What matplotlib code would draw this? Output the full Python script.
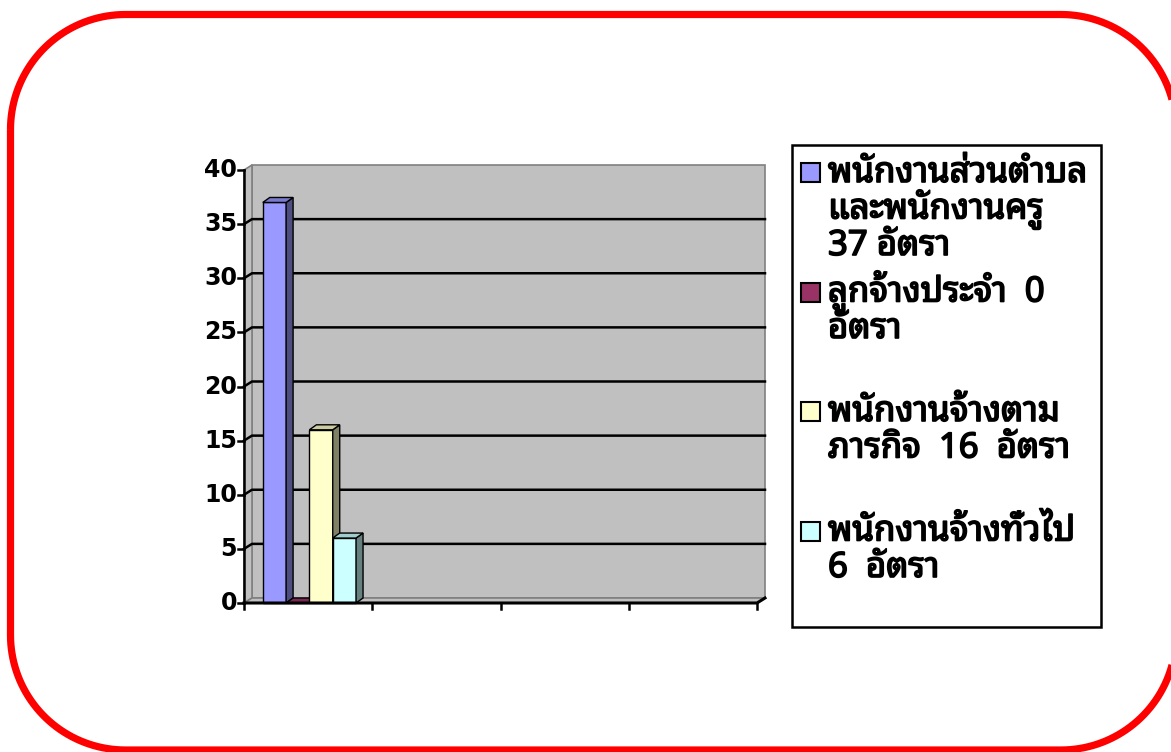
import matplotlib
matplotlib.use("Agg")
import numpy as np
import matplotlib.pyplot as plt
import matplotlib.patheffects as pe
from matplotlib.patches import Polygon, Rectangle
from matplotlib import font_manager

# data
categories = ["1", "2", "3", "4"]
series_names = [
    "พนักงานส่วนตำบล\nและพนักงานครู\n37 อัตรา",
    "ลูกจ้างประจำ  0\nอัตรา",
    "พนักงานจ้างตาม\nภารกิจ  16  อัตรา",
    "พนักงานจ้างทั่วไป\n6  อัตรา",
]
values = [37, 0, 16, 6]
front_colors = ["#9999FF", "#993366", "#FFFFCC", "#CCFFFF"]
side_colors = ["#4D4D80", "#4D1A33", "#808066", "#668080"]
top_colors = ["#7A7ACC", "#7A2952", "#CCCCA3", "#A3CCCC"]
yticks = [0, 5, 10, 15, 20, 25, 30, 35, 40]

installed = {f.name for f in font_manager.fontManager.ttflist}
thai_font = "Loma"
for pref in ["Noto Sans Thai Looped", "Loma"]:
    if pref in installed:
        thai_font = pref
        break
plt.rcParams["font.family"] = [thai_font, "Noto Sans", "DejaVu Sans"]

W, H = 1171, 752
fig = plt.figure(figsize=(W / 100, H / 100), dpi=100)

def px(x, y):
    return x / W, 1 - y / H

# red rounded frame, built in pixels
fl, ft, fr, fb, rad = 10.5, 14.5, 1176, 750, 115
pts = []
for cx, cy, a0 in [(fl + rad, ft + rad, 180), (fr - rad, ft + rad, 270),
                   (fr - rad, fb - rad, 0), (fl + rad, fb - rad, 90)]:
    a = np.radians(np.linspace(a0, a0 + 90, 40))
    pts += [px(cx + rad * np.cos(t), cy + rad * np.sin(t)) for t in a]
fig.patches.append(Polygon(pts, closed=True, transform=fig.transFigure, fill=False,
                           ec="#FF0000", lw=5.2, joinstyle="round"))

# plot area (front plane)
x0, x1, yb, yt = 244, 757, 603, 170
l, b = px(x0, yb)
r, t = px(x1, yt)
ax = fig.add_axes([l, b, r - l, t - b])
ncat = len(categories)
ymax = yticks[-1]
ax.set_xlim(0, ncat)
ax.set_ylim(0, ymax)
ax.axis("off")

# depth offsets in data units
cat_px = (x1 - x0) / ncat
val_px = (yb - yt) / ymax
dx = 8 / cat_px
dy = 5 / val_px
bdx = 7 / cat_px
bdy = 5 / val_px

wall_kw = dict(fc="#C0C0C0", ec="#808080", lw=1.2, clip_on=False)
ax.add_patch(Polygon([(dx, dy), (ncat + dx, dy), (ncat + dx, ymax + dy), (dx, ymax + dy)], **wall_kw))
ax.add_patch(Polygon([(0, 0), (dx, dy), (dx, ymax + dy), (0, ymax)], **wall_kw))
ax.add_patch(Polygon([(0, 0), (ncat, 0), (ncat + dx, dy), (dx, dy)], **wall_kw))

for v in yticks[1:-1]:
    ax.plot([0, dx, ncat + dx], [v, v + dy, v + dy], color="black", lw=1.8, clip_on=False)

# bars (first category only carries data)
nser = len(values)
bw = 1 / (nser + 1.5)
start = 0.75 * bw + 0.01
for i, v in enumerate(values):
    xl = start + i * bw
    xr = xl + bw
    ax.add_patch(Polygon([(xl, 0), (xr, 0), (xr, v), (xl, v)], fc=front_colors[i], ec="black", lw=1.0, clip_on=False, zorder=3))
    ax.add_patch(Polygon([(xr, 0), (xr + bdx, bdy), (xr + bdx, v + bdy), (xr, v)], fc=side_colors[i], ec="black", lw=1.0, clip_on=False, zorder=3))
    ax.add_patch(Polygon([(xl, v), (xr, v), (xr + bdx, v + bdy), (xl + bdx, v + bdy)], fc=top_colors[i], ec="black", lw=1.0, clip_on=False, zorder=3))

# axes lines
ax.plot([0, 0], [0, ymax], color="black", lw=1.8, clip_on=False, zorder=4)
ax.plot([0, ncat, ncat + dx], [0, 0, dy], color="black", lw=2.2, clip_on=False, zorder=4)
tick_len_x = 6 / cat_px
tick_len_y = 6 / val_px
for v in yticks:
    ax.plot([-tick_len_x, 0], [v, v], color="black", lw=1.8, clip_on=False, zorder=4)
    ax.text(-tick_len_x - 1 / cat_px, v, str(v), ha="right", va="center", fontsize=17,
            fontweight="bold", family=["DejaVu Sans"], clip_on=False)
for k in range(ncat + 1):
    ax.plot([k, k], [0, -tick_len_y], color="black", lw=1.8, clip_on=False, zorder=4)

# legend
lx0, ly0, lx1, ly1 = 792, 145, 1101, 627
lgx, lgy = px(lx0, ly1)
fig.patches.append(Rectangle((lgx, lgy), (lx1 - lx0) / W, (ly1 - ly0) / H,
                             transform=fig.transFigure, fc="white", ec="black", lw=1.8))
bold = [pe.withStroke(linewidth=1.2, foreground="black")]
for i, name in enumerate(series_names):
    base = 182 + i * 119.5
    sx, sy = px(801, base)
    fig.patches.append(Rectangle((sx, sy), 19 / W, 19 / H, transform=fig.transFigure,
                                 fc=front_colors[i], ec="black", lw=1.5))
    for k, line in enumerate(name.split("\n")):
        tx, ty = px(828, base + k * 36.5)
        fig.text(tx, ty, line, ha="left", va="baseline", fontsize=25, fontweight="bold",
                 path_effects=bold)

fig.savefig("out.png", dpi=100)
